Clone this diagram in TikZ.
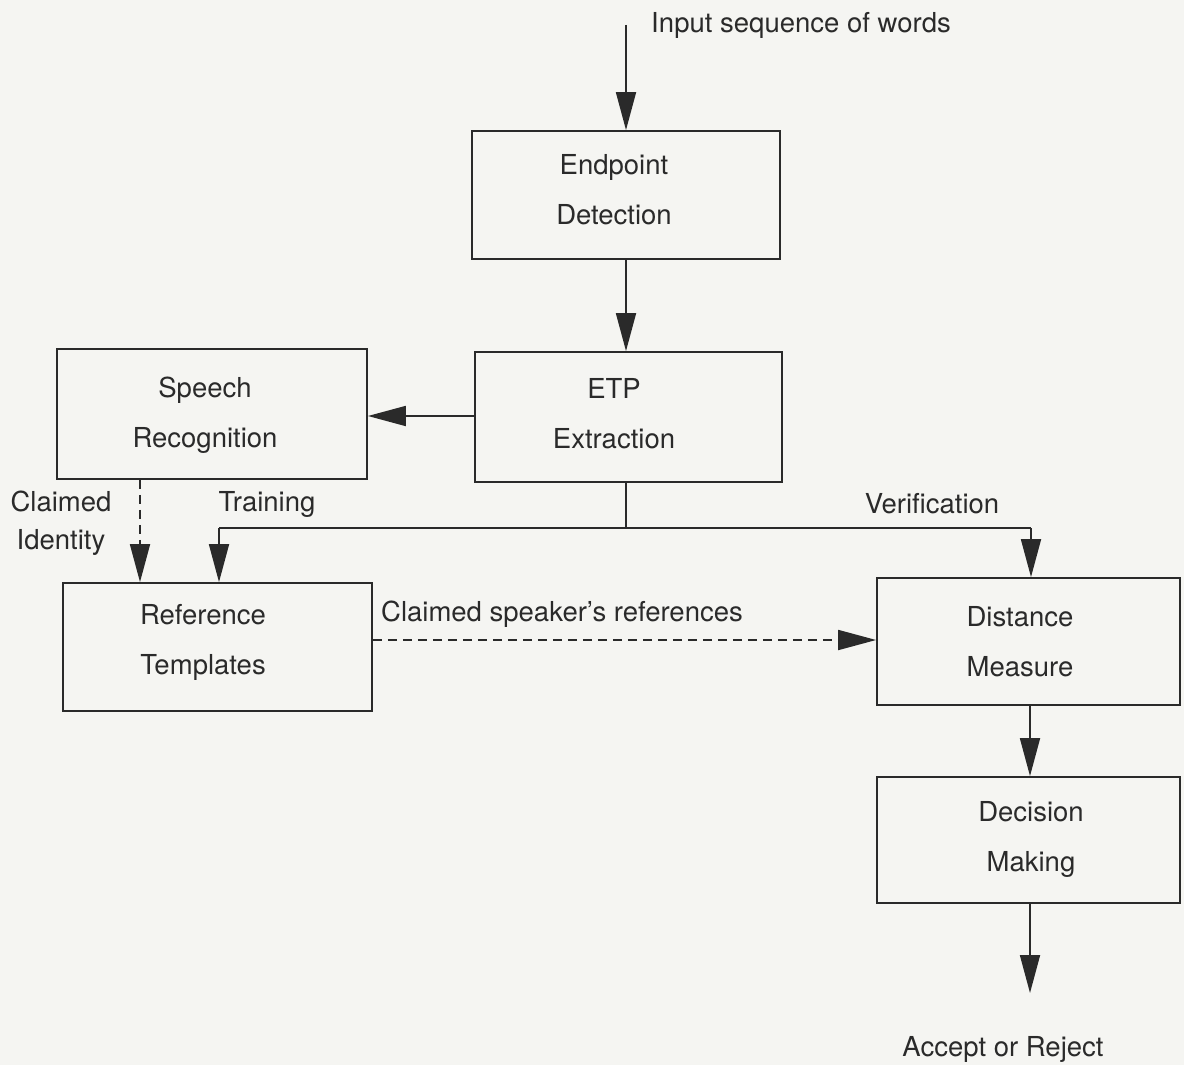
\documentclass[tikz,border=0pt]{standalone}
\usepackage{fontspec}
\setmainfont{TeX Gyre Heros}
\usetikzlibrary{arrows.meta}
\definecolor{ink}{HTML}{2A2A2A}
\definecolor{paper}{HTML}{F5F5F2}
\begin{document}
\begin{tikzpicture}[x=1pt,y=-1pt,
  box/.style={draw=ink, line width=1.8pt, rectangle, inner sep=0pt},
  txt/.style={text=ink, font=\fontsize{27.5}{50}\selectfont, align=center, inner sep=0pt},
  lbl/.style={text=ink, font=\fontsize{27.5}{38}\selectfont, align=center, inner sep=0pt},
  conn/.style={draw=ink, line width=1.8pt},
  arr/.style={conn, -{Triangle[length=38pt,width=20pt]}},
  dshline/.style={dash pattern=on 9pt off 6pt}
]
\fill[paper] (0,0) rectangle (1184,1065);
\useasboundingbox (0,0) rectangle (1184,1065);

% boxes
\node[box, minimum width=308pt, minimum height=128pt] (ep) at (626,195) {};
\node[box, minimum width=307pt, minimum height=130pt] (etp) at (628.5,417) {};
\node[box, minimum width=310pt, minimum height=130pt] (sr) at (212,414) {};
\node[box, minimum width=309pt, minimum height=128pt] (rt) at (217.5,647) {};
\node[box, minimum width=303pt, minimum height=127pt] (dm) at (1028.5,641.5) {};
\node[box, minimum width=303pt, minimum height=126pt] (dec) at (1028.5,840) {};

% box texts
\node[txt] (ept) at (614,190) {Endpoint\\Detection};
\node[txt] (etpt) at (614,414) {ETP\\Extraction};
\node[txt] (srt) at (205,415) {Speech\\Recognition};
\node[txt] (rtt) at (203,642) {Reference\\Templates};
\node[txt] (dmt) at (1020,642) {Distance\\Measure};
\node[txt] (dect) at (1031,839) {Decision\\Making};

% labels
\node[lbl] (inl) at (801,25) {Input sequence of words};
\node[lbl] (cil) at (61,523) {Claimed\\Identity};
\node[lbl] (trl) at (267,504) {Training};
\node[lbl] (vel) at (932,504) {Verification};
\node[lbl] (csl) at (562,614) {Claimed speaker's references};
\node[lbl] (arl) at (1003,1049) {Accept or Reject};

% coordinates
\coordinate (in) at (626,25);
\coordinate (split) at (626,528);
\coordinate (tl) at (219,528);
\coordinate (tr) at (1031,528);
\coordinate (out) at (1030,993);

% connectors
\draw[arr] (in) -- (ep.north -| in);
\draw[arr] (ep.south -| in) -- (etp.north -| in);
\draw[arr] (etp.west |- 0,416) -- (sr.east |- 0,416);
\draw[conn] (etp.south -| split) -- (split);
\draw[conn] (tl) -- (tr);
\draw[arr] (tl) -- (rt.north -| tl);
\draw[arr] (tr) -- (dm.north -| tr);
\draw[arr, dshline] (sr.south -| 140,0) -- (rt.north -| 140,0);
\draw[arr, dshline] (rt.east |- 0,640) -- (dm.west |- 0,640);
\draw[arr] (dm.south -| 1030,0) -- (dec.north -| 1030,0);
\draw[arr] (dec.south -| out) -- (out);
\end{tikzpicture}
\end{document}
